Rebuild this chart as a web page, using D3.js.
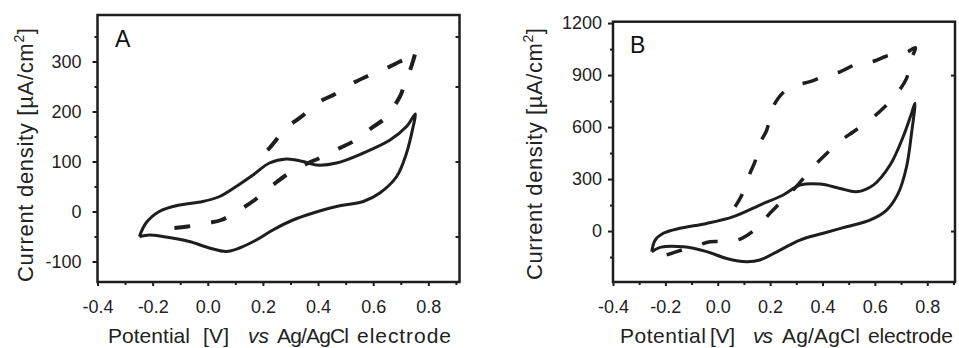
<!DOCTYPE html>
<html>
<head>
<meta charset="utf-8">
<script src="https://cdn.jsdelivr.net/npm/d3@7"></script>
<style>
  body { margin: 0; background: #fff; }
  svg { display: block; font-family: "Liberation Sans", Arial, sans-serif; }
  .tick text { fill: #222; }
</style>
</head>
<body>
<script>

// tick values
var xTicks = [-0.4, -0.2, 0.0, 0.2, 0.4, 0.6, 0.8];
var xMinor = [-0.3, -0.1, 0.1, 0.3, 0.5, 0.7, 0.9];
var yTicksA = [-100, 0, 100, 200, 300];
var yMinorA = [-50, 50, 150, 250, 350];
var yRightA = [350, 250, 100, -50];
var yTicksB = [0, 300, 600, 900, 1200];
var yMinorB = [-150, 150, 450, 750, 1050];
var yRightB = [900, 0];

// [potential V, current density uA/cm2]
var solidA = [
  [-0.248, -50], [-0.224, -23], [-0.176, 0], [-0.103, 13], [-0.018, 20], [0.043, 30],
  [0.103, 50], [0.164, 73], [0.224, 97], [0.285, 105], [0.345, 100], [0.394, 93],
  [0.467, 97], [0.564, 117], [0.661, 143], [0.721, 170], [0.753, 195],
  [0.745, 170], [0.721, 117], [0.685, 70], [0.624, 37], [0.564, 20], [0.467, 10],
  [0.382, -3], [0.309, -17], [0.236, -37], [0.176, -57], [0.115, -73], [0.067, -80],
  [0.006, -73], [-0.067, -60], [-0.164, -50], [-0.212, -47], [-0.248, -50]
];
var dashedA = [
  [-0.121, -33], [-0.073, -30], [0.0, -23], [0.049, -17], [0.115, 3], [0.17, 23],
  [0.236, 53], [0.285, 73], [0.364, 97], [0.406, 107], [0.479, 127], [0.527, 140],
  [0.594, 167], [0.643, 187], [0.697, 230], [0.715, 257], [0.74, 293], [0.752, 322],
  [0.72, 306], [0.697, 300], [0.649, 287], [0.576, 270], [0.527, 257], [0.455, 233],
  [0.406, 220], [0.34, 190], [0.285, 167], [0.224, 127], [0.182, 103]
];
var solidB = [
  [-0.252, -119], [-0.239, -52], [-0.208, -13], [-0.144, 16], [-0.042, 44], [0.06, 83],
  [0.161, 150], [0.25, 208], [0.314, 265], [0.39, 271], [0.467, 246], [0.53, 227],
  [0.594, 265], [0.658, 381], [0.708, 544], [0.74, 679], [0.753, 737],
  [0.74, 564], [0.721, 371], [0.689, 217], [0.645, 121], [0.581, 63], [0.492, 25],
  [0.403, -13], [0.314, -52], [0.238, -110], [0.161, -167], [0.111, -177], [0.034, -158],
  [-0.042, -119], [-0.131, -91], [-0.22, -94], [-0.252, -119]
];
var dashedB = [
  [-0.195, -138], [-0.157, -119], [-0.074, -81], [-0.03, -62], [0.04, -60], [0.092, -42],
  [0.155, 25], [0.193, 92], [0.263, 199], [0.3, 257], [0.365, 371], [0.41, 439],
  [0.473, 525], [0.518, 573], [0.588, 650], [0.632, 708], [0.689, 804], [0.721, 881],
  [0.74, 996], [0.755, 1058],
  [0.72, 1030], [0.683, 1017], [0.651, 1012], [0.588, 977], [0.537, 968], [0.467, 919],
  [0.416, 900], [0.352, 862], [0.302, 842], [0.26, 812], [0.231, 766], [0.206, 698],
  [0.187, 583], [0.161, 506], [0.142, 400], [0.123, 333], [0.092, 208], [0.066, 140]
];

var svg = d3.select('body').append('svg')
  .attr('width', 959)
  .attr('height', 348)

// x title words: [x, width, text, italic]
var panels = [
  {name: 'A', left: 97.5, right: 459.5, top: 15, bottom: 282,
   xMax: 0.913, yMin: -141, yMax: 393,
   yTicks: yTicksA, yMinor: yMinorA, yRight: yRightA, yPad: 11,
   solid: solidA, dashed: dashedA,
   letter: [115, 47],
   yTitle: [33, 282, 254],
   xTitle: [[108, 82, 'Potential'], [203, 26, '[V]'], [248, 21, 'vs', true],
            [277, 72, 'Ag/AgCl'], [357, 94, 'electrode']]},
  {name: 'B', left: 613, right: 955, top: 21.7, bottom: 282,
   xMax: 0.906, yMin: -294, yMax: 1208,
   yTicks: yTicksB, yMinor: yMinorB, yRight: yRightB, yPad: 6,
   solid: solidB, dashed: dashedB,
   letter: [630, 53],
   yTitle: [541.5, 280, 252],
   xTitle: [[620, 86, 'Potential'], [710, 25, '[V]'], [753, 20, 'vs', true],
            [782, 78, 'Ag/AgCl'], [868, 85, 'electrode']]}
];

var ink = '#1e1e1e';

panels.forEach(function(p) {
  var x = d3.scaleLinear().domain([-0.4, p.xMax]).range([p.left, p.right]);
  var y = d3.scaleLinear().domain([p.yMin, p.yMax]).range([p.bottom, p.top]);
  var g = svg.append('g');

  var line = d3.line()
    .x(d => x(d[0]))
    .y(d => y(d[1]))
    .curve(d3.curveCatmullRom.alpha(0.5));

  // curves
  g.append('path')
    .attr('d', line(p.solid))
    .attr('fill', 'none')
    .attr('stroke', ink)
    .attr('stroke-width', 3)
    .attr('stroke-linejoin', 'round')

  g.append('path')
    .attr('d', line(p.dashed))
    .attr('fill', 'none')
    .attr('stroke', ink)
    .attr('stroke-width', p.name == 'A' ? 4 : 3.5)
    .attr('stroke-dasharray', '16,21')

  // frame
  g.append('rect')
    .attr('x', p.left)
    .attr('y', p.top)
    .attr('width', p.right - p.left)
    .attr('height', p.bottom - p.top)
    .attr('fill', 'none')
    .attr('stroke', ink)
    .attr('stroke-width', 2.5)

  // axes
  var xAxis = d3.axisBottom(x).tickValues(xTicks).tickSize(4).tickPadding(14)
    .tickFormat(d => d.toFixed(1));
  var xAxisMinor = d3.axisBottom(x).tickValues(xMinor).tickSize(3).tickFormat('');
  var yAxis = d3.axisLeft(y).tickValues(p.yTicks).tickSize(5).tickPadding(p.yPad)
    .tickFormat(d => String(d));
  var yAxisMinor = d3.axisLeft(y).tickValues(p.yMinor).tickSize(3).tickFormat('');
  var yAxisRight = d3.axisLeft(y).tickValues(p.yRight).tickSize(4).tickFormat('');

  var axes = [
    [xAxis, `translate(0,${p.bottom})`],
    [xAxisMinor, `translate(0,${p.bottom})`],
    [yAxis, `translate(${p.left},0)`],
    [yAxisMinor, `translate(${p.left},0)`],
    [yAxisRight, `translate(${p.right},0)`]
  ];
  axes.forEach(function(a) {
    var ag = g.append('g').attr('transform', a[1]).call(a[0]);
    ag.select('.domain').remove();
    ag.selectAll('.tick line').attr('stroke', ink).attr('stroke-width', 2);
    ag.selectAll('.tick text')
      .attr('font-size', 18)
      .attr('font-family', '"Liberation Sans", Arial, sans-serif')
      .attr('fill', '#222');
  });

  // panel letter
  g.append('text')
    .attr('x', p.letter[0])
    .attr('y', p.letter[1])
    .attr('font-size', 23)
    .attr('fill', '#111')
    .text(p.name)

  // x title, one text per word so each keeps its measured width
  g.selectAll('.xtitle').data(p.xTitle).enter()
    .append('text')
    .attr('class', 'xtitle')
    .attr('x', d => d[0])
    .attr('y', 343)
    .attr('font-size', 21)
    .attr('fill', '#222')
    .attr('font-style', d => d[3] ? 'italic' : null)
    .attr('textLength', d => d[1])
    .attr('lengthAdjust', 'spacing')
    .text(d => d[2])

  // y title
  var yt = g.append('text')
    .attr('transform', `translate(${p.yTitle[0]},${p.yTitle[1]}) rotate(-90)`)
    .attr('font-size', 22)
    .attr('fill', '#222')
    .attr('textLength', p.yTitle[2])
    .attr('lengthAdjust', 'spacing')
  yt.append('tspan').text('Current density [µA/cm');
  yt.append('tspan').attr('dy', -9).attr('font-size', 14).text('2');
  yt.append('tspan').attr('dy', 9).text(']');
});

</script>
</body>
</html>
